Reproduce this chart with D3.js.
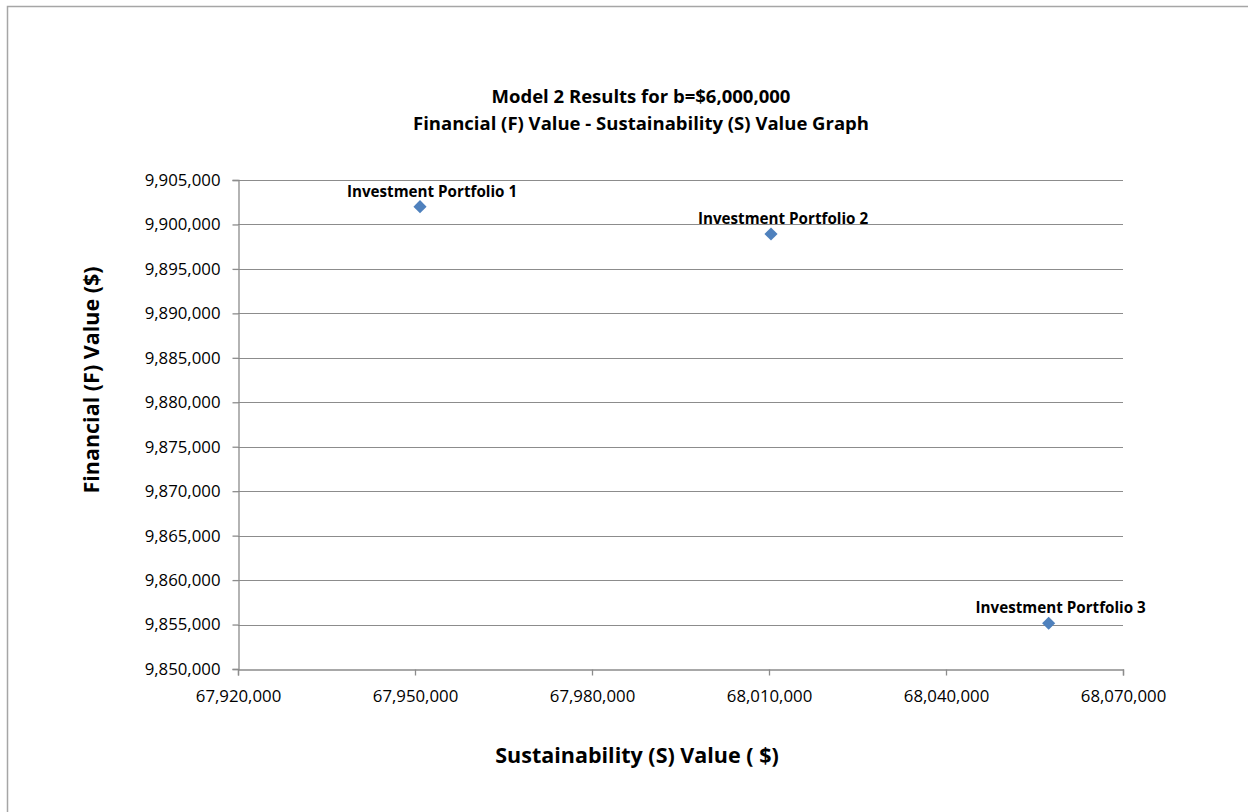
<!DOCTYPE html>
<html>
<head>
<meta charset="utf-8">
<script src="https://cdn.jsdelivr.net/npm/d3@7"></script>
<style>
  html, body { margin: 0; padding: 0; background: #fff; }
  svg { display: block; }
  text { font-family: "Open Sans", "Liberation Sans", sans-serif; fill: #000; }
</style>
</head>
<body>
<svg id="chart" width="1248" height="812"></svg>
<script>
const titleLines = ["Model 2 Results for b=$6,000,000", "Financial (F) Value - Sustainability (S) Value Graph"];
const xTitle = "Sustainability (S) Value ( $)";
const yTitle = "Financial (F) Value ($)";
const portfolios = ["Investment Portfolio 1", "Investment Portfolio 2", "Investment Portfolio 3"];
const sustainabilityValues = [67950850, 68010340, 68057400];
const financialValues = [9902000, 9898930, 9855150];
const xDomain = [67920000, 68070000];
const yDomain = [9850000, 9905000];
const xTickValues = [67920000, 67950000, 67980000, 68010000, 68040000, 68070000];
const yTickValues = [9850000, 9855000, 9860000, 9865000, 9870000, 9875000, 9880000, 9885000, 9890000, 9895000, 9900000, 9905000];

const svg = d3.select("#chart");
const W = 1248, H = 812;
const plot = { left: 238, right: 1123, top: 180, bottom: 669 };

// outer chart border (extends past the window on right/bottom)
svg.append("rect")
  .attr("x", 7.5).attr("y", 6.5)
  .attr("width", W + 20).attr("height", H + 20)
  .attr("fill", "#fff").attr("stroke", "#a6a6a6").attr("stroke-width", 1.5);

const x = d3.scaleLinear().domain(xDomain).range([plot.left, plot.right]);
const y = d3.scaleLinear().domain(yDomain).range([plot.bottom, plot.top]);
const fmt = d3.format(",");

// gridlines
svg.append("g")
  .selectAll("line").data(yTickValues.filter(v => v !== yDomain[0])).join("line")
  .attr("x1", plot.left).attr("x2", plot.right)
  .attr("y1", d => Math.round(y(d)) + 0.5).attr("y2", d => Math.round(y(d)) + 0.5)
  .attr("stroke", "#8c8c8c").attr("stroke-width", 1);

// y axis
const yAxis = svg.append("g")
  .attr("transform", `translate(${plot.left + 0.5},0)`)
  .call(d3.axisLeft(y).tickValues(yTickValues).tickFormat(fmt).tickSizeOuter(0).tickSize(6).tickPadding(12));
// x axis
const xAxis = svg.append("g")
  .attr("transform", `translate(0,${plot.bottom + 0.5})`)
  .call(d3.axisBottom(x).tickValues(xTickValues).tickFormat(fmt).tickSizeOuter(0).tickSize(6).tickPadding(15));

[yAxis, xAxis].forEach(g => {
  g.select(".domain").attr("stroke", "#8c8c8c").attr("stroke-width", 1.3);
  g.selectAll(".tick line").attr("stroke", "#8c8c8c").attr("stroke-width", 1.3);
  g.selectAll(".tick text")
    .attr("font-family", "'Open Sans', sans-serif")
    .attr("font-size", 16.8).attr("fill", "#000");
});

// points
const data = portfolios.map((name, i) => ({ name, sx: sustainabilityValues[i], fy: financialValues[i] }));
svg.append("g")
  .selectAll("path").data(data).join("path")
  .attr("transform", d => `translate(${x(d.sx)},${y(d.fy)})`)
  .attr("d", d3.symbol().type(d3.symbolDiamond2).size(110))
  .attr("fill", "#4f81bd");

// labels
svg.append("g")
  .selectAll("text").data(data).join("text")
  .attr("x", d => x(d.sx) + 12)
  .attr("y", d => y(d.fy) - 10)
  .attr("text-anchor", "middle")
  .attr("font-size", 15.2)
  .attr("font-weight", "bold")
  .text(d => d.name);

// title
svg.append("g")
  .selectAll("text").data(titleLines).join("text")
  .attr("x", 641)
  .attr("y", (d, i) => 103 + i * 27)
  .attr("text-anchor", "middle")
  .attr("font-size", 18.5)
  .attr("font-weight", "bold")
  .text(d => d);

// axis titles
svg.append("text")
  .attr("x", 637).attr("y", 763)
  .attr("text-anchor", "middle")
  .attr("font-size", 21.5).attr("font-weight", "bold")
  .text(xTitle);
svg.append("text")
  .attr("transform", "translate(99,380) rotate(-90)")
  .attr("text-anchor", "middle")
  .attr("font-size", 21.5).attr("font-weight", "bold")
  .text(yTitle);
</script>
</body>
</html>
